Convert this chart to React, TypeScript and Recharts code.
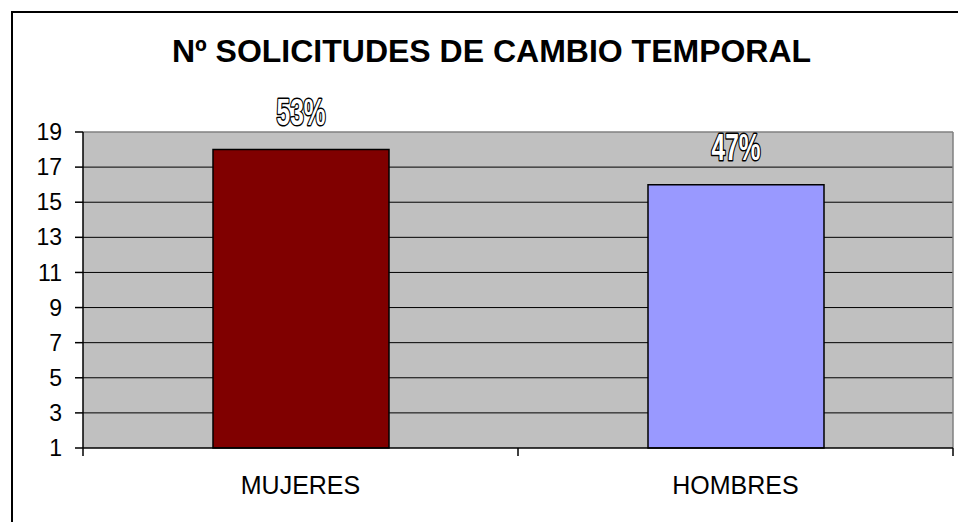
import { BarChart, Bar, XAxis, YAxis, CartesianGrid, Cell, LabelList } from "recharts";

const CATEGORIES = ["MUJERES", "HOMBRES"];
const SOLICITUDES = [18, 16];
const PERCENT_LABELS = ["53%", "47%"];
const BAR_COLORS = ["#800000", "#9999FF"];
const Y_TICKS = [1, 3, 5, 7, 9, 11, 13, 15, 17, 19];

const FONT = "'Liberation Sans', Arial, sans-serif";

const data = CATEGORIES.map((name, i) => ({ name, value: SOLICITUDES[i], pct: PERCENT_LABELS[i], idx: i }));

// outlined, condensed percentage label (Excel "contour" font look)
function PctLabel(props: any) {
  const { x, y, width, value } = props;
  const cx = x + width / 2;
  return (
    <text
      transform={`translate(${cx},${y - 25}) scale(0.68,1)`}
      textAnchor="middle"
      fontFamily={FONT}
      fontWeight="bold"
      fontSize={36}
      fill="#ffffff"
      stroke="#000000"
      strokeWidth={3}
      paintOrder="stroke"
      strokeLinejoin="round"
    >
      {value}
    </text>
  );
}

// category label plus Excel-style tick marks on the category boundaries
function CategoryTick(props: any) {
  const { x, y, payload, index, visibleTicksCount } = props;
  const half = payload?.offset ?? 0;
  const axisY = y - 28;
  const last = index === (visibleTicksCount ?? CATEGORIES.length) - 1;
  return (
    <g>
      <line x1={x - half} x2={x - half} y1={axisY} y2={axisY + 8} stroke="#000" strokeWidth={1.5} />
      {last && <line x1={x + half} x2={x + half} y1={axisY} y2={axisY + 8} stroke="#000" strokeWidth={1.5} />}
      <text x={x} y={y} dy="0.71em" textAnchor="middle" fontFamily={FONT} fontSize={25} fill="#000">
        {payload.value}
      </text>
    </g>
  );
}

export default function App() {
  return (
    <div style={{ position: "relative", width: 958, height: 522, overflow: "hidden", background: "#fff" }}>
      <style>{"body{margin:0}"}</style>
      {/* chart area frame: only left/top edges fall inside the picture */}
      <div
        style={{
          position: "absolute",
          left: 11,
          top: 11,
          width: 1000,
          height: 1000,
          border: "2px solid #000",
        }}
      />
      <div
        style={{
          position: "absolute",
          left: 0,
          width: 983,
          top: 35,
          lineHeight: "32px",
          textAlign: "center",
          fontFamily: FONT,
          fontWeight: "bold",
          fontSize: 32,
          color: "#000",
          whiteSpace: "nowrap",
        }}
      >
        Nº SOLICITUDES DE CAMBIO TEMPORAL
      </div>
      <div style={{ position: "absolute", left: 0, top: 0 }}>
        <BarChart width={958} height={522} data={data} margin={{ top: 132, right: 5, bottom: 34, left: 13 }}>
          <CartesianGrid
            vertical={false}
            horizontalValues={Y_TICKS.slice(1, -1)}
            stroke="#000"
            strokeOpacity={1}
            fill="#C0C0C0"
            fillOpacity={1}
          />
          {/* gray plot-area border on top and right */}
          <CartesianGrid
            stroke="#808080"
            strokeWidth={1.5}
            horizontalCoordinatesGenerator={({ offset }: any) => [offset.top]}
            verticalCoordinatesGenerator={({ offset }: any) => [offset.left + offset.width]}
          />
          <XAxis
            dataKey="name"
            height={40}
            tickSize={0}
            tickMargin={28}
            tickLine={false}
            interval={0}
            axisLine={{ stroke: "#000", strokeWidth: 1.5 }}
            tick={CategoryTick}
          />
          <YAxis
            domain={[1, 19]}
            ticks={Y_TICKS}
            interval={0}
            width={70}
            tickSize={8}
            tickMargin={13}
            axisLine={{ stroke: "#000", strokeWidth: 1.5 }}
            tickLine={{ stroke: "#000", strokeWidth: 1.5 }}
            tick={{ fontFamily: FONT, fontSize: 23, fill: "#000" }}
          />
          <Bar dataKey="value" barSize={176} stroke="#000" strokeWidth={1.5} isAnimationActive={false}>
            {data.map((d) => (
              <Cell key={d.name} fill={BAR_COLORS[d.idx]} />
            ))}
            <LabelList dataKey="pct" content={PctLabel} />
          </Bar>
        </BarChart>
      </div>
    </div>
  );
}
